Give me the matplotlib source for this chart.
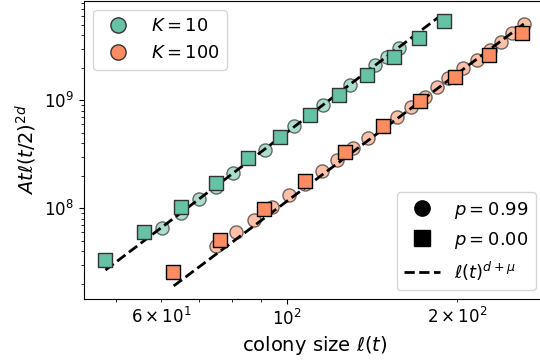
import matplotlib
matplotlib.use('Agg')
import matplotlib.pyplot as plt
from matplotlib.lines import Line2D

# colony size l(t) and A t l(t/2)^{2d}
k10_p0_x = [47.9, 56.1, 65.1, 75.0, 85.6, 97.3, 109.9, 123.8, 138.6, 154.5, 171.4, 189.7]
k10_p0_y = [3.32e7, 5.97e7, 1.02e8, 1.73e8, 2.89e8, 4.57e8, 7.26e8, 1.11e9, 1.70e9, 2.53e9, 3.74e9, 5.42e9]

k10_p99_x = [60.2, 65.0, 70.1, 75.0, 80.5, 91.6, 103.2, 116.1, 129.3, 143.2, 150.3, 158.1]
k10_p99_y = [6.53e7, 8.95e7, 1.21e8, 1.59e8, 2.11e8, 3.50e8, 5.72e8, 8.95e8, 1.38e9, 2.11e9, 2.54e9, 3.06e9]

k100_p0_x = [63.1, 76.3, 91.1, 107.9, 126.9, 148.1, 172.0, 198.3, 227.7, 260.2]
k100_p0_y = [2.58e7, 5.09e7, 9.79e7, 1.80e8, 3.31e8, 5.80e8, 9.89e8, 1.63e9, 2.65e9, 4.23e9]

k100_p99_x = [75.0, 81.5, 87.7, 94.2, 100.9, 107.9, 115.4, 122.9, 131.1, 139.3, 147.9,
              156.4, 165.5, 175.4, 183.9, 192.9, 204.9, 216.4, 228.5, 238.5, 249.5, 262.3]
k100_p99_y = [4.43e7, 6.07e7, 7.79e7, 1.02e8, 1.33e8, 1.68e8, 2.22e8, 2.80e8, 3.58e8, 4.45e8, 5.72e8,
              7.05e8, 8.72e8, 1.08e9, 1.34e9, 1.60e9, 1.98e9, 2.36e9, 2.92e9, 3.49e9, 4.17e9, 5.05e9]

# power law guide lines l(t)^{d+mu}, end points
k10_fit_x = [47.9, 186.5]
k10_fit_y = [2.68e7, 6.03e9]
k100_fit_x = [63.2, 263.4]
k100_fit_y = [1.91e7, 5.2e9]

green = '#66c2a5'
orange = '#fc8d62'

plt.rcParams['font.size'] = 12

fig = plt.figure(figsize=(5.4, 3.6), dpi=100)
ax = fig.add_axes([0.1556, 0.1694, 0.8537, 0.8278])

ax.scatter(k10_p99_x, k10_p99_y, s=90, marker='o', color=green, edgecolor='k', alpha=0.55, linewidth=1, zorder=2)
ax.scatter(k100_p99_x, k100_p99_y, s=90, marker='o', color=orange, edgecolor='k', alpha=0.55, linewidth=1, zorder=2)

ax.plot(k10_fit_x, k10_fit_y, 'k--', lw=2, zorder=3)
ax.plot(k100_fit_x, k100_fit_y, 'k--', lw=2, zorder=3)

ax.scatter(k10_p0_x, k10_p0_y, s=90, marker='s', color=green, edgecolor='#333333', linewidth=1, zorder=4)
ax.scatter(k100_p0_x, k100_p0_y, s=90, marker='s', color=orange, edgecolor='k', linewidth=1, zorder=4)

ax.set_xscale('log')
ax.set_yscale('log')
ax.set_xlim(43.9, 285.6)
ax.set_ylim(1.445e7, 8.3e9)
ax.set_xlabel(r'colony size $\ell(t)$', fontsize=14)
ax.set_ylabel(r'$At\ell(t/2)^{2d}$', fontsize=14)

k_handles = [Line2D([], [], ls='', marker='o', ms=11, mfc=green, mec='#333333'),
             Line2D([], [], ls='', marker='o', ms=11, mfc=orange, mec='#333333')]
leg1 = ax.legend(k_handles, [r'$K=10$', r'$K=100$'], loc='upper left', fontsize=13)
ax.add_artist(leg1)

p_handles = [Line2D([], [], ls='', marker='o', ms=11, color='k'),
             Line2D([], [], ls='', marker='s', ms=11, color='k'),
             Line2D([], [], ls='--', lw=2, color='k')]
ax.legend(p_handles, [r'$p=0.99$', r'$p=0.00$', r'$\ell(t)^{d+\mu}$'], loc='lower right', fontsize=13)

fig.savefig('out.png', dpi=100)
